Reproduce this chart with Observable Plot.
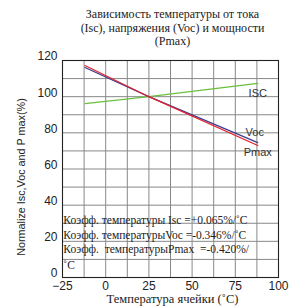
<!DOCTYPE html>
<html><head><meta charset="utf-8">
<script src="https://cdn.jsdelivr.net/npm/d3@7"></script>
<script src="https://cdn.jsdelivr.net/npm/@observablehq/plot@0.6"></script>
<style>
body{margin:0;background:#fff;}
#title{width:295px;height:50px;box-sizing:border-box;padding-top:8px;padding-left:50px;text-align:center;font-family:"Liberation Serif",serif;font-size:12px;line-height:13.5px;color:#222;}
</style>
</head><body>
<div id="title"></div>
<div id="chart"></div>
<script>
const titleLines = ["Зависимость температуры от тока", "(Isc), напряжения (Voc) и мощности", "(Pmax)"];
const temps = [-12, 25, 88];
const isc = [96.2, 100, 107.3];
const voc = [116.1, 100, 74.6];
const pmax = [117.2, 100, 73.0];
const seriesNames = ["ISC", "Voc", "Pmax"];
const xTicks = [-25, 0, 25, 50, 75, 100];
const yTicks = [0, 20, 40, 60, 80, 100, 120];
const notes = ["Коэфф. температуры Isc =+0.065%/˚C", "Коэфф. температурыVoc =-0.346%/˚C", "Коэфф.  температурыPmax  =-0.420%/", "˚C"];
const noteY = [31.5, 23.5, 15.5, 7];
const xLabel = "Температура ячейки (˚C)";
const yLabel = "Normalize Isc,Voc and P max(%)";

document.getElementById("title").innerHTML = titleLines.join("<br>");

const colors = {ISC: "#6cbf3c", Voc: "#3c3c8c", Pmax: "#e4202c"};
const rows = [];
[isc, voc, pmax].forEach((arr, i) => arr.forEach((v, j) => rows.push({s: seriesNames[i], t: temps[j], v})));
const lastOf = name => rows.filter(r => r.s === name).slice(-1);
const noteRows = notes.map((n, i) => ({n, y: noteY[i]}));

const sans = "'Liberation Sans', Arial, sans-serif";
const serif = "'Liberation Serif', serif";

const plot = Plot.plot({
  width: 295, height: 258,
  marginTop: 10, marginBottom: 31, marginLeft: 62, marginRight: 17,
  style: {fontFamily: sans, fontSize: "12px", color: "#222", background: "#fff"},
  x: {domain: [-25, 100]},
  y: {domain: [0, 120]},
  marks: [
    Plot.gridX(d3.range(-25, 100.1, 12.5), {stroke: "#888", strokeOpacity: 1}),
    Plot.gridY(d3.range(0, 120.1, 10), {stroke: "#888", strokeOpacity: 1}),
    Plot.frame({stroke: "#222", strokeWidth: 1.1}),
    Plot.axisX(xTicks, {tickSize: 0, tickPadding: 4, label: null, fontSize: 12, fill: "#222"}),
    Plot.axisY(yTicks, {tickSize: 0, tickPadding: 5, label: null, fontSize: 12, dy: -4, fill: "#222"}),
    Plot.line(rows, {x: "t", y: "v", z: "s", stroke: d => colors[d.s], strokeWidth: 1.2}),
    Plot.text(lastOf("ISC"), {x: "t", y: "v", text: "s", dy: 10, dx: 0, fontSize: 11, fill: "#333"}),
    Plot.text(lastOf("Voc"), {x: "t", y: "v", text: "s", dy: -10, dx: -3, fontSize: 11, fill: "#333"}),
    Plot.text(lastOf("Pmax"), {x: "t", y: "v", text: "s", dy: 7, dx: 0, fontSize: 11, fill: "#333"}),
    Plot.text(noteRows, {x: -24.5, y: "y", text: "n", textAnchor: "start", fontFamily: serif, fontSize: 11.5, fill: "#222"}),
    Plot.text([xLabel], {frameAnchor: "bottom", textAnchor: "middle", dy: 25, dx: 2, text: d => d, fontFamily: serif, fontSize: 12.5, fill: "#222", style: {letterSpacing: "0.3px"}}),
    Plot.text([yLabel], {frameAnchor: "left", textAnchor: "middle", dx: -41, dy: 8, rotate: -90, text: d => d, fontFamily: sans, fontSize: 10.8, fill: "#222"})
  ]
});
document.getElementById("chart").appendChild(plot);
</script>
</body></html>
